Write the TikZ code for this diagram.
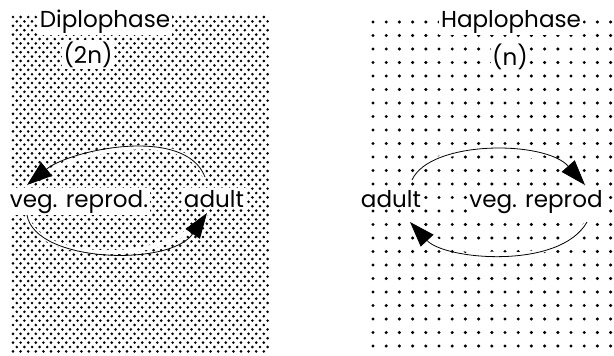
\documentclass[tikz,border=0pt]{standalone}
\usepackage{fontspec}
\setmainfont{Poppins}
\usetikzlibrary{arrows.meta}

\begin{document}
\begin{tikzpicture}[x=0.75pt, y=0.75pt,
  every node/.style={font=\fontsize{17.3}{19}\selectfont},
  lbl/.style={fill=white, inner sep=1.2pt, anchor=base},
  cyc/.style={-{Triangle[length=19pt, width=13pt]}, line width=0.6pt,
    preaction={draw=white, line width=3pt, -}}]
  \useasboundingbox (0,0) rectangle (614,355);
  % dense staggered screen for the diploid phase
  \fill[black] \foreach \r in {0,...,76}{\foreach \c in {0,...,33}{
      ({13+mod(\r,2)*3.8+\c*7.6},{338-\r*4.4}) circle (1.45)}};
  % open square screen for the haploid phase
  \fill[black] \foreach \r in {0,...,24}{\foreach \c in {0,...,18}{
      ({373+\c*13.2},{333-\r*13.5}) circle (1.7)}};
  % labels, knocked out of the screens
  \node[lbl] (diplo) at (105,328) {Diplophase};
  \node[lbl] (twon)  at (88,292)  {(2n)};
  \node[lbl] (haplo) at (511,328) {Haplophase};
  \node[lbl] (onen)  at (510,290) {(n)};
  \node[lbl] (dVeg)   at (79,148)  {veg. reprod.};
  \node[lbl] (dAdult) at (214,148) {adult};
  \node[lbl] (hAdult) at (391,148) {adult};
  \node[lbl] (hVeg)   at (536,148) {veg. reprod};
  % cycle ends
  \coordinate (dUpS) at (205,178);  \coordinate (dUpE) at (27,170);
  \coordinate (dLoS) at (27,140);   \coordinate (dLoE) at (207,142);
  \coordinate (hUpS) at (412,175);  \coordinate (hUpE) at (585,170);
  \coordinate (hLoS) at (587,133);  \coordinate (hLoE) at (410,133);
  % the two cycles
  \draw[cyc] (dUpS) .. controls (185,230) and (70,205) .. (dUpE);
  \draw[cyc] (dLoS) .. controls (35,92) and (170,88) .. (dLoE);
  \draw[cyc] (hUpS) .. controls (430,215) and (545,215) .. (hUpE);
  \draw[cyc] (hLoS) .. controls (560,85) and (445,95) .. (hLoE);
\end{tikzpicture}
\end{document}
